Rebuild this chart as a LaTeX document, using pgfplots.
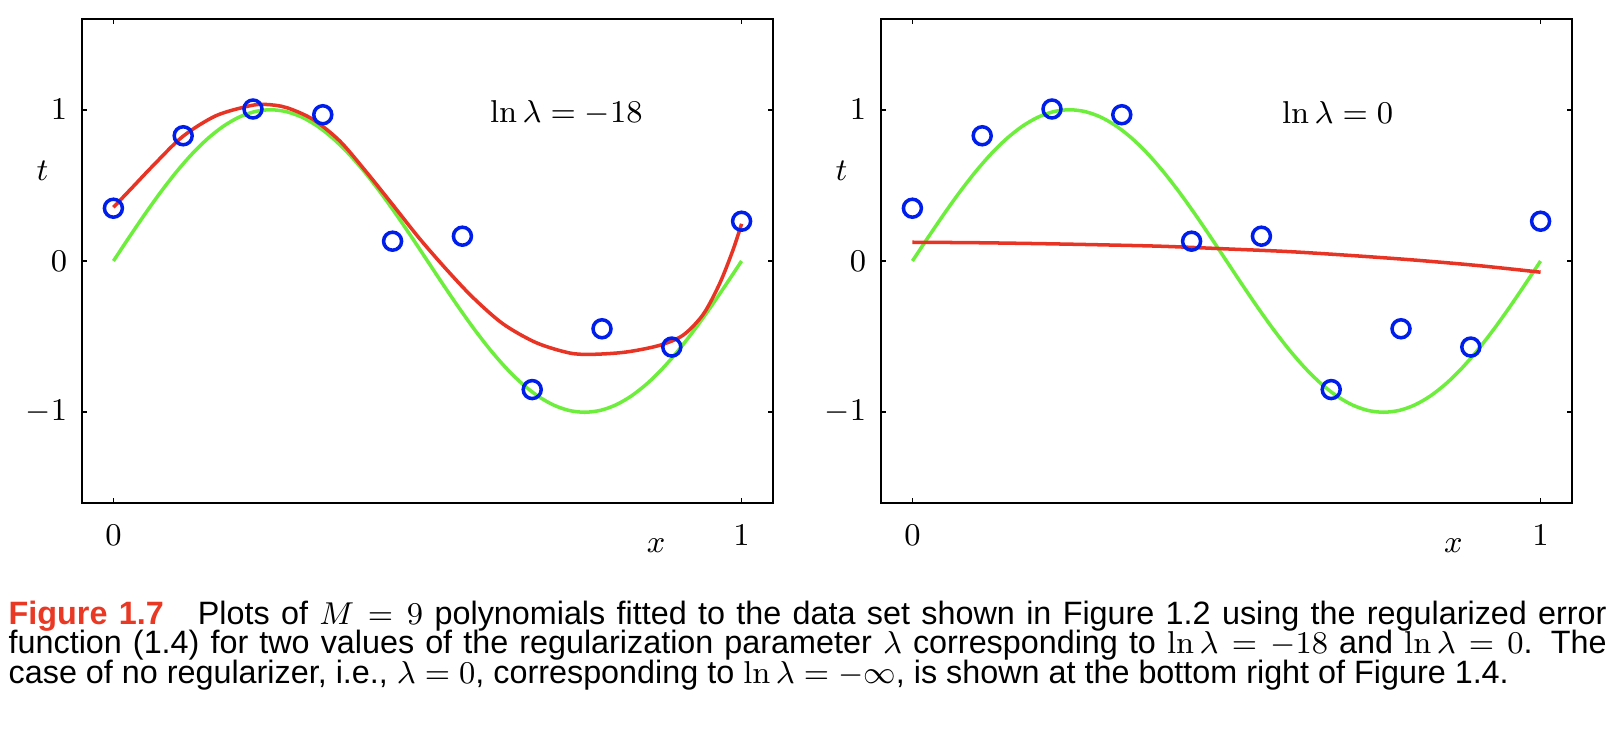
\documentclass[border=0pt]{standalone}
\usepackage{pgfplots}
\pgfplotsset{compat=1.18}
\usepackage{pgfplotstable}
\usepackage[no-math]{fontspec}
\setmainfont{Liberation Sans}
\definecolor{curvered}{RGB}{232,52,36}
\definecolor{curvegreen}{RGB}{110,238,60}
\definecolor{ptblue}{RGB}{0,30,235}
\definecolor{figred}{RGB}{233,56,36}

\pgfplotstableread{
x y
0.0000 0.349
0.1111 0.828
0.2222 1.005
0.3333 0.967
0.4444 0.131
0.5556 0.164
0.6667 -0.850
0.7778 -0.448
0.8889 -0.569
1.0000 0.263
}\datapts

\pgfplotstableread{
x y
0.000 0.0000
0.025 0.1564
0.050 0.3090
0.075 0.4540
0.100 0.5878
0.125 0.7071
0.150 0.8090
0.175 0.8910
0.200 0.9511
0.225 0.9877
0.250 1.0000
0.275 0.9877
0.300 0.9511
0.325 0.8910
0.350 0.8090
0.375 0.7071
0.400 0.5878
0.425 0.4540
0.450 0.3090
0.475 0.1564
0.500 0.0000
0.525 -0.1564
0.550 -0.3090
0.575 -0.4540
0.600 -0.5878
0.625 -0.7071
0.650 -0.8090
0.675 -0.8910
0.700 -0.9511
0.725 -0.9877
0.750 -1.0000
0.775 -0.9877
0.800 -0.9511
0.825 -0.8910
0.850 -0.8090
0.875 -0.7071
0.900 -0.5878
0.925 -0.4540
0.950 -0.3090
0.975 -0.1564
1.000 0.0000
}\sinecurve

\pgfplotstableread{
x y
0.000 0.355
0.031 0.490
0.063 0.630
0.110 0.822
0.163 0.960
0.217 1.026
0.243 1.035
0.275 1.015
0.317 0.938
0.360 0.795
0.402 0.592
0.445 0.370
0.487 0.150
0.530 -0.055
0.572 -0.240
0.620 -0.415
0.673 -0.540
0.726 -0.608
0.763 -0.617
0.816 -0.602
0.869 -0.558
0.907 -0.490
0.939 -0.352
0.965 -0.150
0.986 0.069
1.000 0.246
}\redleft

\pgfplotstableread{
x y
0.0 0.124
0.1 0.121
0.2 0.115
0.3 0.107
0.4 0.097
0.5 0.080
0.6 0.062
0.7 0.036
0.8 0.006
0.9 -0.030
1.0 -0.074
}\redright

\pgfplotsset{bishop/.style={
  scale only axis, width=69.1mm, height=48.4mm,
  xmin=-0.05, xmax=1.05, ymin=-1.6, ymax=1.6,
  xtick={0,1}, ytick={-1,0,1},
  tick align=inside, major tick length=0.5mm,
  axis line style={line width=0.6pt},
  every tick/.append style={line width=0.5pt, black},
  tick label style={font=\fontsize{9}{10}\selectfont},
  xticklabel style={yshift=-0.95mm},
  yticklabel style={xshift=-0.25mm},
  clip=false, anchor=south west}}

\begin{document}
\begin{tikzpicture}
\useasboundingbox (0,0) rectangle (161.6mm,-73.6mm);
\begin{axis}[bishop, at={(8.2mm,-50.3mm)}]
\addplot[only marks, mark=o, mark size=0.9mm, mark options={ptblue, line width=1pt}] table {\datapts};
\addplot[curvegreen, line width=1pt, smooth] table {\sinecurve};
\addplot[curvered, line width=1pt, smooth] table {\redleft};
\node[font=\fontsize{9}{10}\selectfont] at (axis cs:0.721,0.98) {$\ln\lambda = -18$};
\node[font=\fontsize{9}{10}\selectfont] at (axis cs:-0.113,0.597) {$t$};
\node[font=\fontsize{9}{10}\selectfont] at (axis cs:0.864,-1.885) {$x$};
\end{axis}
\begin{axis}[bishop, at={(88.1mm,-50.3mm)}]
\addplot[only marks, mark=o, mark size=0.9mm, mark options={ptblue, line width=1pt}] table {\datapts};
\addplot[curvegreen, line width=1pt, smooth] table {\sinecurve};
\addplot[curvered, line width=1pt, smooth] table {\redright};
\node[font=\fontsize{9}{10}\selectfont] at (axis cs:0.677,0.98) {$\ln\lambda = 0$};
\node[font=\fontsize{9}{10}\selectfont] at (axis cs:-0.113,0.597) {$t$};
\node[font=\fontsize{9}{10}\selectfont] at (axis cs:0.861,-1.885) {$x$};
\end{axis}
\begin{scope}[every node/.style={anchor=base west, inner sep=0pt, font=\fontsize{9.2}{10}\selectfont}]
\node at (0.8mm,-62.45mm) {\makebox[159.8mm][s]{{\bfseries\color{figred}Figure 1.7}\hspace{3.4mm}Plots of $M=9$ polynomials fitted to the data set shown in Figure 1.2 using the regularized error}};
\node at (0.8mm,-65.39mm) {\makebox[159.8mm][s]{function (1.4) for two values of the regularization parameter $\lambda$ corresponding to $\ln\lambda=-18$ and $\ln\lambda=0$. The}};
\node at (0.8mm,-68.33mm) {case of no regularizer, i.e., $\lambda=0$, corresponding to $\ln\lambda=-\infty$, is shown at the bottom right of Figure 1.4.};
\end{scope}
\end{tikzpicture}
\end{document}
